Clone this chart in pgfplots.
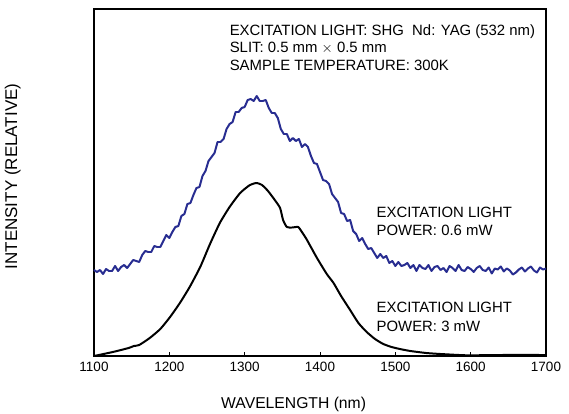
\documentclass[border=0pt]{standalone}
\usepackage{pgfplots}
\pgfplotsset{compat=1.18}
\usepackage{fontspec}
\setmainfont{Liberation Sans}
\definecolor{specblue}{RGB}{40,45,145}
\begin{document}
\begin{tikzpicture}
\useasboundingbox (-94bp,-58bp) rectangle (475bp,356bp);
\begin{axis}[
  at={(0,0)}, anchor=south west,
  scale only axis, width=452bp, height=347bp,
  xmin=1100, xmax=1700, ymin=0, ymax=347,
  xtick={1100,1200,...,1700},
  ytick=\empty,
  tick align=inside, xtick pos=bottom,
  major tick length=4bp,
  axis line style={line width=1.8pt},
  every tick/.style={line width=0.9pt, black},
  xticklabel style={/pgf/number format/1000 sep={}, font=\fontsize{13.5bp}{15bp}\selectfont, yshift=-3bp},
  /pgf/number format/assume math mode=true,
  clip=false,
]
\addplot[specblue, line width=2pt, line join=round] coordinates {
(1100,86)(1104,84)(1108,86)(1112,82)(1116,87)(1120,85)(1124,85)(1128,90)(1132,85)(1136,89)
(1140,91)(1144,88)(1148,92)(1152,96)(1156,95)(1160,94)(1164,101)(1168,105)(1172,104)(1176,104)
(1180,110)(1184,109)(1188,109)(1192,115)(1196,121)(1200,118)(1204,124)(1208,129)(1212,130)(1216,140)
(1220,142)(1224,152)(1228,153)(1232,161)(1236,168)(1240,169)(1244,180)(1248,185)(1252,195)(1256,199)
(1260,203)(1264,214)(1268,214)(1272,217)(1276,227)(1280,232)(1284,234)(1288,244)(1292,244)(1296,248)
(1300,249)(1304,256)(1308,257)(1312,255)(1316,260)(1320,255)(1324,255)(1328,256)(1332,248)(1336,243)
(1340,243)(1344,238)(1348,227)(1352,222)(1356,222)(1360,215)(1364,218)(1368,215)(1372,217)(1376,209)
(1380,212)(1384,209)(1388,200)(1392,193)(1396,192)(1400,184)(1404,176)(1408,175)(1412,172)(1416,162)
(1420,158)(1424,154)(1428,143)(1432,142)(1436,135)(1440,136)(1444,125)(1448,122)(1452,115)(1456,118)
(1460,112)(1464,107)(1468,108)(1472,103)(1476,98)(1480,102)(1484,98)(1488,100)(1492,93)(1496,95)
(1500,90)(1504,94)(1508,90)(1512,91)(1516,93)(1520,88)(1524,91)(1528,85)(1532,91)(1536,88)
(1540,87)(1544,91)(1548,85)(1552,89)(1556,90)(1560,86)(1564,88)(1568,84)(1572,90)(1576,88)
(1580,85)(1584,91)(1588,86)(1592,85)(1596,89)(1600,87)(1604,84)(1608,88)(1612,90)(1616,86)
(1620,85)(1624,88.5)(1628,82.5)(1632,87.5)(1636,86.5)(1640,89.5)(1644,84.5)(1648,87.5)(1652,85.5)(1656,81.5)
(1660,83.5)(1664,86.5)(1668,88.5)(1672,84.5)(1676,87.5)(1680,89.5)(1684,85.5)(1688,83.5)(1692,88.5)(1696,86.5)(1700,87.5)
};
\addplot[black, line width=2pt, smooth, tension=0.35, line join=round] coordinates {
(1100,0)(1125,4)(1146,8)(1153,10)(1160,11)(1174,18)(1188,27)(1201,39)(1214,53)(1227,69)
(1241,89)(1254,112)(1267,133)(1280,149)(1294,163)(1307,171)(1316,173)(1323,171)(1331,165)(1340,156)
(1347,148)(1351,136)(1356,129)(1363,128.5)(1371,129)(1376,124)(1382,117)(1396,98)(1409,82)(1418,73)
(1428,60)(1440,46)(1451,33)(1462,24)(1473,17)(1484,12)(1495,9)(1506,7)(1520,5)(1541,3)
(1560,2)(1595,0.7)(1640,1)(1700,1)
};
\node[anchor=west, inner sep=0pt, font=\fontsize{14.9bp}{16bp}\selectfont] at (axis cs:1280,324) {EXCITATION LIGHT: SHG\ \ Nd: YAG (532 nm)};
\node[anchor=west, inner sep=0pt, font=\fontsize{14.9bp}{16bp}\selectfont] at (axis cs:1280,308) {SLIT: 0.5 mm $\times$ 0.5 mm};
\node[anchor=west, inner sep=0pt, font=\fontsize{14.9bp}{16bp}\selectfont] at (axis cs:1280,291) {SAMPLE TEMPERATURE: 300K};
\node[anchor=west, inner sep=0pt, font=\fontsize{14.9bp}{16bp}\selectfont] at (axis cs:1475,144) {EXCITATION LIGHT};
\node[anchor=west, inner sep=0pt, font=\fontsize{14.9bp}{16bp}\selectfont] at (axis cs:1475,126) {POWER: 0.6 mW};
\node[anchor=west, inner sep=0pt, font=\fontsize{14.9bp}{16bp}\selectfont] at (axis cs:1475,48.5) {EXCITATION LIGHT};
\node[anchor=west, inner sep=0pt, font=\fontsize{14.9bp}{16bp}\selectfont] at (axis cs:1475,30) {POWER: 3 mW};
\node[font=\fontsize{15.7bp}{17bp}\selectfont] at (axis cs:1365,-48.5) {WAVELENGTH (nm)};
\node[rotate=90, font=\fontsize{17bp}{18bp}\selectfont] at (axis cs:992,179.5) {INTENSITY (RELATIVE)};
\end{axis}
\end{tikzpicture}
\end{document}
